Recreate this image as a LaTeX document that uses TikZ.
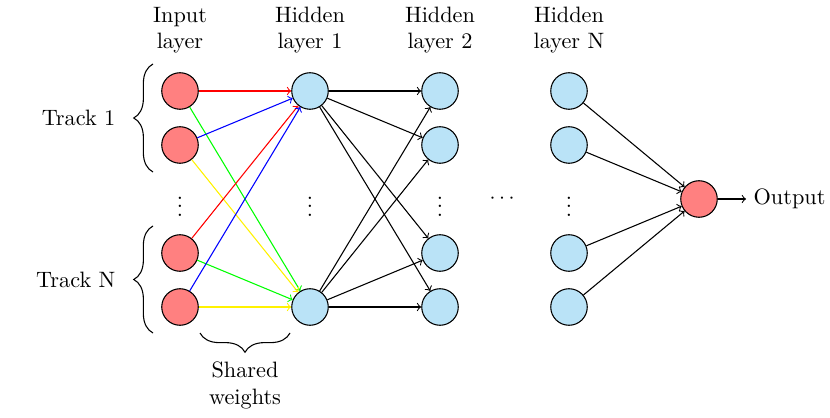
\documentclass[tikz,border=0pt]{standalone}
\usetikzlibrary{decorations.pathreplacing}
\definecolor{inred}{RGB}{255,128,128}
\definecolor{hidblue}{RGB}{186,227,247}
\begin{document}
\begin{tikzpicture}[x=0.4673pt,y=-0.4673pt,line width=0.5pt,
  every node/.style={font=\fontsize{10.4}{12.3}\selectfont},
  neuron/.style={circle,draw=black,inner sep=0pt,minimum size=0.6cm},
  inneuron/.style={neuron,fill=inred},
  hidneuron/.style={neuron,fill=hidblue},
  lbl/.style={align=center,inner sep=0pt},
  conn/.style={->},
  bracedeco/.style={decorate,decoration={brace,amplitude=9pt}}]
\useasboundingbox (0,0) rectangle (830,418);
% input layer
\node[inneuron] (i1) at (180,91) {};
\node[inneuron] (i2) at (180,145) {};
\node[inneuron] (i3) at (180,253) {};
\node[inneuron] (i4) at (180,307) {};
% hidden 1
\node[hidneuron] (a1) at (310,91) {};
\node[hidneuron] (a2) at (310,307) {};
% hidden 2
\node[hidneuron] (b1) at (440,91) {};
\node[hidneuron] (b2) at (440,145) {};
\node[hidneuron] (b3) at (440,253) {};
\node[hidneuron] (b4) at (440,307) {};
% hidden N
\node[hidneuron] (n1) at (569,91) {};
\node[hidneuron] (n2) at (569,145) {};
\node[hidneuron] (n3) at (569,253) {};
\node[hidneuron] (n4) at (569,307) {};
% output
\node[inneuron] (o) at (699,199) {};
\node[anchor=west] (ot) at (746,199) {Output};
% dots
\node (d1) at (180,200) {$\vdots$};
\node (d2) at (310,200) {$\vdots$};
\node (d3) at (440,200) {$\vdots$};
\node (d4) at (569,200) {$\vdots$};
\node (dh) at (502,199) {$\cdots$};
% headers
\node[lbl] (hi) at (180,30) {Input\\layer};
\node[lbl] (h1) at (310,30) {Hidden\\layer 1};
\node[lbl] (h2) at (440,30) {Hidden\\layer 2};
\node[lbl] (hn) at (569,30) {Hidden\\layer N};
% colored input connections
\draw[conn,red] (i1) -- (a1);
\draw[conn,green] (i1) -- (a2);
\draw[conn,blue] (i2) -- (a1);
\draw[conn,yellow] (i2) -- (a2);
\draw[conn,red] (i3) -- (a1);
\draw[conn,green] (i3) -- (a2);
\draw[conn,blue] (i4) -- (a1);
\draw[conn,yellow] (i4) -- (a2);
% hidden1 -> hidden2
\foreach \s in {a1,a2}{
  \foreach \t in {b1,b2,b3,b4}{
    \draw[conn] (\s) -- (\t);
  }
}
% hidden N -> output
\foreach \s in {n1,n2,n3,n4}{
  \draw[conn] (\s) -- (o);
}
\draw[conn] (o) -- (ot);
% braces
\coordinate (bt1) at (153,64);
\coordinate (bb1) at (153,172);
\coordinate (bt2) at (153,226);
\coordinate (bb2) at (153,333);
\draw[bracedeco] (bb1) -- (bt1) node[midway,left=14pt] (t1) {Track 1};
\draw[bracedeco] (bb2) -- (bt2) node[midway,left=14pt] (tn) {Track N};
\coordinate (sl) at (200,333);
\coordinate (sr) at (290,333);
\draw[bracedeco] (sr) -- (sl) node[midway,below=10pt,align=center] (sw) {Shared\\weights};
\end{tikzpicture}
\end{document}
